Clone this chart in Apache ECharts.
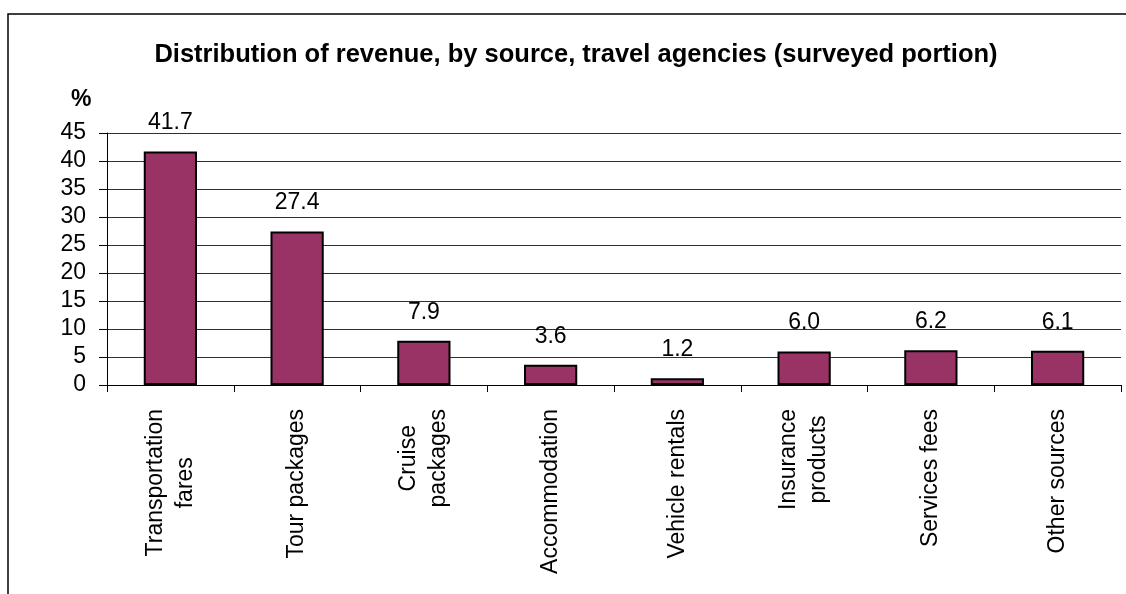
<!DOCTYPE html>
<html>
<head>
<meta charset="utf-8">
<title>Distribution of revenue, by source, travel agencies</title>
<script src="https://cdn.jsdelivr.net/npm/echarts@6/dist/echarts.min.js"></script>
<style>
  html, body { margin: 0; padding: 0; background: #fff; }
  #chart { width: 1126px; height: 594px; }
</style>
</head>
<body>
<div id="chart"></div>
<script>
// Revenue sources (two-line names are broken with \n)
const categories = [
  'Transportation\nfares',
  'Tour packages',
  'Cruise\npackages',
  'Accommodation',
  'Vehicle rentals',
  'Insurance\nproducts',
  'Services fees',
  'Other sources'
];
// Share of revenue, percent
const shares = [41.7, 27.4, 7.9, 3.6, 1.2, 6.0, 6.2, 6.1];
// Value axis ticks
const yTicks = [0, 5, 10, 15, 20, 25, 30, 35, 40, 45];

const FONT = 'Arial, "Liberation Sans", sans-serif';
const FS = 23;

const chart = echarts.init(document.getElementById('chart'), null, { renderer: 'canvas' });

chart.setOption({
  animation: false,
  backgroundColor: '#ffffff',
  title: [
    {
      text: 'Distribution of revenue, by source, travel agencies (surveyed portion)',
      left: 571,
      top: 37,
      textAlign: 'center',
      textStyle: { fontFamily: FONT, fontSize: 25.5, fontWeight: 'bold', color: '#000' }
    },
    {
      text: '%',
      left: 66,
      top: 83,
      textStyle: { fontFamily: FONT, fontSize: FS, fontWeight: 'bold', color: '#000' }
    }
  ],
  graphic: [
    {
      type: 'rect',
      silent: true,
      shape: { x: 8, y: 14, width: 1300, height: 800 },
      style: { fill: 'none', stroke: '#000', lineWidth: 1.5 }
    }
  ],
  grid: { left: 107, top: 133, right: 5, bottom: 209, containLabel: false },
  xAxis: {
    type: 'category',
    data: categories,
    boundaryGap: true,
    axisLine: { show: true, lineStyle: { color: '#000', width: 1 } },
    axisTick: { show: true, length: 7, alignWithLabel: false, lineStyle: { color: '#000', width: 1 } },
    axisLabel: {
      interval: 0,
      rotate: 90,
      margin: 24,
      color: '#000',
      fontFamily: FONT,
      fontSize: FS,
      lineHeight: 30,
      formatter: function (v) {
        return v.split('\n').map(function (s) { return '{c|' + s + '}'; }).join('\n');
      },
      rich: {
        c: { align: 'center', fontFamily: FONT, fontSize: FS, lineHeight: 30, color: '#000' }
      }
    },
    splitLine: { show: false }
  },
  yAxis: {
    type: 'value',
    min: yTicks[0],
    max: yTicks[yTicks.length - 1],
    interval: yTicks[1] - yTicks[0],
    axisLine: { show: true, lineStyle: { color: '#000', width: 1 } },
    axisTick: { show: true, length: 8, lineStyle: { color: '#000', width: 1 } },
    axisLabel: {
      margin: 21,
      color: '#000',
      fontFamily: FONT,
      fontSize: FS
    },
    splitLine: { show: true, lineStyle: { color: '#303030', width: 1 } }
  },
  series: [
    {
      type: 'bar',
      data: shares,
      barWidth: '42%',
      itemStyle: { color: '#993366', borderColor: '#000', borderWidth: 2 },
      label: {
        show: true,
        position: 'top',
        distance: 17,
        color: '#000',
        fontFamily: FONT,
        fontSize: FS,
        formatter: function (p) { return p.value.toFixed(1); }
      }
    }
  ]
});
</script>
</body>
</html>
